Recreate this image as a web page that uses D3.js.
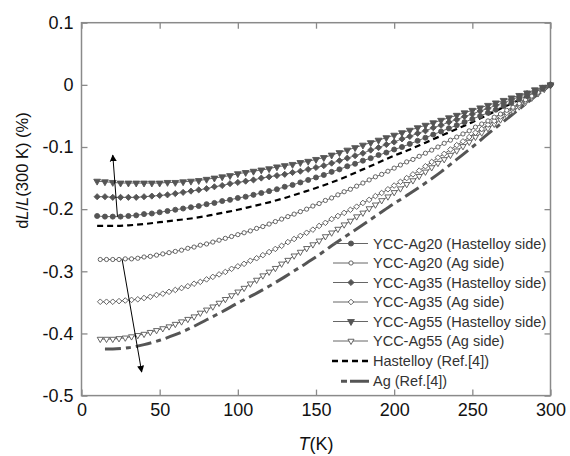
<!DOCTYPE html>
<html><head><meta charset="utf-8">
<script src="https://cdn.jsdelivr.net/npm/d3@7"></script>
<style>body{margin:0;background:#fff}svg{display:block}</style></head>
<body><svg id="c" width="570" height="456"></svg>
<script>
// ---------- data ----------
const xTicks = [0, 50, 100, 150, 200, 250, 300];
const xTickLabels = ["0", "50", "100", "150", "200", "250", "300"];
const yTicks = [-0.5, -0.4, -0.3, -0.2, -0.1, 0, 0.1];
const yTickLabels = ["-0.5", "-0.4", "-0.3", "-0.2", "-0.1", "0", "0.1"];

// temperatures (K) – Hastelloy-side measurements
const tempH = [10,15,20,25,30,35,40,45,50,55,60,65,70,75,80,85,90,95,100,105,110,115,120,125,130,135,140,145,150,155,160,165,170,175,180,185,190,195,200,205,210,215,220,225,230,235,240,245,250,255,260,265,270,275,280,285,290,295,300];
// temperatures (K) – Ag-side measurements
const tempAg = [12,16,20,24,28,32,36,40,44,48,52,56,60,64,68,72,76,80,84,88,92,96,100,104,108,112,116,120,124,128,132,136,140,144,148,152,156,160,164,168,172,176,180,184,188,192,196,200,204,208,212,216,220,224,228,232,236,240,244,248,252,256,260,264,268,272,276,280,284,288,292,296,300];
// temperatures (K) – reference curves
const tempRefHast = [10,20,30,40,50,60,70,80,90,100,110,120,130,140,150,160,170,180,190,200,210,220,230,240,250,260,270,280,290,300];
const tempRefAg = [15,20,30,40,50,60,70,80,90,100,110,120,130,140,150,160,170,180,190,200,210,220,230,240,250,260,270,280,290,300];

// dL/L (%) values
const ag20Hast = [-0.211,-0.212,-0.212,-0.212,-0.211,-0.210,-0.208,-0.207,-0.205,-0.203,-0.201,-0.199,-0.197,-0.195,-0.192,-0.190,-0.187,-0.185,-0.182,-0.180,-0.177,-0.174,-0.171,-0.168,-0.164,-0.161,-0.157,-0.153,-0.149,-0.145,-0.140,-0.136,-0.131,-0.127,-0.122,-0.118,-0.113,-0.109,-0.104,-0.100,-0.095,-0.090,-0.085,-0.080,-0.075,-0.070,-0.065,-0.060,-0.055,-0.050,-0.045,-0.040,-0.034,-0.029,-0.023,-0.018,-0.012,-0.006,0];
const ag35Hast = [-0.180,-0.180,-0.181,-0.181,-0.181,-0.181,-0.180,-0.179,-0.178,-0.177,-0.175,-0.173,-0.171,-0.169,-0.167,-0.164,-0.162,-0.159,-0.157,-0.155,-0.153,-0.150,-0.148,-0.146,-0.144,-0.141,-0.139,-0.136,-0.133,-0.130,-0.126,-0.122,-0.118,-0.114,-0.110,-0.105,-0.101,-0.096,-0.092,-0.087,-0.083,-0.078,-0.074,-0.069,-0.065,-0.060,-0.056,-0.051,-0.047,-0.042,-0.038,-0.033,-0.029,-0.024,-0.019,-0.014,-0.010,-0.005,0];
const ag55Hast = [-0.155,-0.156,-0.157,-0.158,-0.158,-0.158,-0.158,-0.158,-0.158,-0.157,-0.157,-0.156,-0.155,-0.154,-0.152,-0.150,-0.148,-0.146,-0.143,-0.141,-0.139,-0.137,-0.135,-0.132,-0.130,-0.128,-0.125,-0.123,-0.120,-0.117,-0.113,-0.109,-0.105,-0.101,-0.097,-0.093,-0.089,-0.085,-0.081,-0.077,-0.073,-0.069,-0.065,-0.061,-0.057,-0.053,-0.049,-0.045,-0.041,-0.037,-0.033,-0.029,-0.025,-0.021,-0.017,-0.013,-0.008,-0.004,0];
const ag20Ag = [-0.281,-0.281,-0.281,-0.281,-0.280,-0.280,-0.279,-0.277,-0.276,-0.274,-0.272,-0.270,-0.268,-0.266,-0.263,-0.261,-0.258,-0.256,-0.253,-0.250,-0.247,-0.244,-0.241,-0.238,-0.235,-0.231,-0.228,-0.224,-0.220,-0.216,-0.212,-0.208,-0.204,-0.200,-0.195,-0.191,-0.186,-0.182,-0.177,-0.172,-0.168,-0.163,-0.158,-0.153,-0.148,-0.144,-0.139,-0.134,-0.129,-0.124,-0.120,-0.115,-0.110,-0.105,-0.100,-0.094,-0.089,-0.084,-0.079,-0.074,-0.068,-0.063,-0.058,-0.052,-0.047,-0.041,-0.036,-0.030,-0.024,-0.018,-0.012,-0.006,0];
const ag35Ag = [-0.349,-0.349,-0.349,-0.348,-0.347,-0.346,-0.345,-0.343,-0.341,-0.338,-0.336,-0.333,-0.330,-0.327,-0.324,-0.320,-0.317,-0.313,-0.309,-0.305,-0.301,-0.296,-0.292,-0.288,-0.283,-0.279,-0.274,-0.269,-0.264,-0.259,-0.253,-0.248,-0.243,-0.238,-0.233,-0.227,-0.222,-0.216,-0.211,-0.206,-0.201,-0.196,-0.190,-0.185,-0.179,-0.174,-0.168,-0.162,-0.156,-0.150,-0.144,-0.138,-0.131,-0.124,-0.117,-0.111,-0.104,-0.097,-0.091,-0.084,-0.077,-0.071,-0.064,-0.058,-0.051,-0.045,-0.038,-0.032,-0.026,-0.019,-0.013,-0.006,0];
const ag55Ag = [-0.409,-0.409,-0.409,-0.408,-0.407,-0.405,-0.403,-0.401,-0.398,-0.395,-0.392,-0.389,-0.385,-0.381,-0.377,-0.373,-0.367,-0.362,-0.357,-0.351,-0.345,-0.339,-0.333,-0.327,-0.320,-0.314,-0.307,-0.301,-0.295,-0.288,-0.282,-0.275,-0.269,-0.263,-0.257,-0.251,-0.244,-0.238,-0.232,-0.225,-0.219,-0.212,-0.206,-0.199,-0.193,-0.186,-0.180,-0.173,-0.167,-0.160,-0.154,-0.147,-0.140,-0.133,-0.126,-0.120,-0.113,-0.106,-0.099,-0.092,-0.084,-0.077,-0.070,-0.063,-0.056,-0.049,-0.042,-0.035,-0.028,-0.021,-0.014,-0.007,0];
const refHast = [-0.227,-0.227,-0.226,-0.224,-0.221,-0.218,-0.215,-0.211,-0.206,-0.201,-0.195,-0.189,-0.182,-0.174,-0.166,-0.157,-0.147,-0.136,-0.125,-0.114,-0.104,-0.093,-0.082,-0.071,-0.060,-0.048,-0.036,-0.024,-0.012,0];
const refAg = [-0.425,-0.425,-0.423,-0.418,-0.411,-0.402,-0.391,-0.378,-0.365,-0.351,-0.338,-0.324,-0.309,-0.293,-0.277,-0.259,-0.242,-0.225,-0.208,-0.191,-0.175,-0.158,-0.140,-0.120,-0.100,-0.079,-0.059,-0.039,-0.019,0];

const legendLabels = ["YCC-Ag20 (Hastelloy side)","YCC-Ag20 (Ag side)","YCC-Ag35 (Hastelloy side)","YCC-Ag35 (Ag side)","YCC-Ag55 (Hastelloy side)","YCC-Ag55 (Ag side)","Hastelloy (Ref.[4])","Ag (Ref.[4])"];

// arrows: [T0, v0, T1, v1]
const arrowUp = [23, -0.212, 20, -0.113];
const arrowDown = [26, -0.281, 38.5, -0.462];

// ---------- chart ----------
const svg = d3.select("#c");
const M = {l: 81.5, r: 550.5, t: 22.7, b: 395.6};
const x = d3.scaleLinear().domain([0, 300]).range([M.l, M.r]);
const y = d3.scaleLinear().domain([-0.5, 0.1]).range([M.b, M.t]);
const FONT = "Liberation Sans, Arial, Helvetica, sans-serif";
const frameColor = "#8a8a8a";
const markColor = "#555";

svg.append("defs").append("marker")
  .attr("id", "ah").attr("viewBox", "0 0 10 10").attr("refX", 9).attr("refY", 5)
  .attr("markerWidth", 7).attr("markerHeight", 11).attr("markerUnits", "userSpaceOnUse")
  .attr("orient", "auto")
  .append("path").attr("d", "M0,0 L10,5 L0,10 Z").attr("fill", "#000");

// axes
const gx = svg.append("g").attr("transform", `translate(0,${M.b})`)
  .call(d3.axisBottom(x).tickValues(xTicks).tickFormat((d, i) => xTickLabels[i]).tickSizeInner(-6).tickSizeOuter(0).tickPadding(8));
const gy = svg.append("g").attr("transform", `translate(${M.l},0)`)
  .call(d3.axisLeft(y).tickValues(yTicks).tickFormat((d, i) => yTickLabels[i]).tickSizeInner(-6).tickSizeOuter(0).tickPadding(8));
const gxt = svg.append("g").attr("transform", `translate(0,${M.t})`)
  .call(d3.axisTop(x).tickValues(xTicks).tickFormat("").tickSizeInner(-6).tickSizeOuter(0));
const gyr = svg.append("g").attr("transform", `translate(${M.r},0)`)
  .call(d3.axisRight(y).tickValues(yTicks).tickFormat("").tickSizeInner(-6).tickSizeOuter(0));
[gx, gy, gxt, gyr].forEach(g => {
  g.select(".domain").remove();
  g.selectAll(".tick line").attr("stroke", frameColor).attr("stroke-width", 1.3);
  g.selectAll("text").attr("font-family", FONT).attr("font-size", 18).attr("fill", "#111");
});
svg.append("rect").attr("x", M.l).attr("y", M.t).attr("width", M.r - M.l).attr("height", M.b - M.t)
  .attr("fill", "none").attr("stroke", frameColor).attr("stroke-width", 1.5);

// axis titles
const yt = svg.append("text").attr("transform", `translate(28,${y(-0.138)}) rotate(-90)`)
  .attr("text-anchor", "middle").attr("font-family", FONT).attr("font-size", 16.5).attr("fill", "#111");
yt.append("tspan").text("d");
yt.append("tspan").attr("font-style", "italic").text("L");
yt.append("tspan").text("/");
yt.append("tspan").attr("font-style", "italic").text("L");
yt.append("tspan").text("(300 K) (%)");
const xt = svg.append("text").attr("x", x(150)).attr("y", 450)
  .attr("text-anchor", "middle").attr("font-family", FONT).attr("font-size", 18).attr("fill", "#111");
xt.append("tspan").attr("font-style", "italic").text("T");
xt.append("tspan").text("(K)");

// reference lines
const line = d3.line().x(d => x(d[0])).y(d => y(d[1])).curve(d3.curveMonotoneX);
svg.append("path").datum(d3.zip(tempRefHast, refHast)).attr("d", line)
  .attr("fill", "none").attr("stroke", "#000").attr("stroke-width", 2.2).attr("stroke-dasharray", "6,4");
svg.append("path").datum(d3.zip(tempRefAg, refAg)).attr("d", line)
  .attr("fill", "none").attr("stroke", "#555").attr("stroke-width", 3).attr("stroke-dasharray", "16,5,5,5");

// series
const series = [
  {t: tempAg, v: ag55Ag, type: d3.symbolTriangle, rot: 180, size: 16, fill: "#fff"},
  {t: tempAg, v: ag35Ag, type: d3.symbolDiamond2, rot: 0, size: 20, fill: "#fff"},
  {t: tempAg, v: ag20Ag, type: d3.symbolCircle, rot: 0, size: 14, fill: "#fff"},
  {t: tempH, v: ag20Hast, type: d3.symbolCircle, rot: 0, size: 20, fill: markColor},
  {t: tempH, v: ag35Hast, type: d3.symbolDiamond2, rot: 0, size: 24, fill: markColor},
  {t: tempH, v: ag55Hast, type: d3.symbolTriangle, rot: 180, size: 20, fill: markColor}
];
series.forEach(s => {
  const pts = d3.zip(s.t, s.v);
  svg.append("path").datum(pts).attr("d", d3.line().x(d => x(d[0])).y(d => y(d[1])))
    .attr("fill", "none").attr("stroke", "#666").attr("stroke-width", 1);
  svg.append("g").selectAll("path").data(pts).join("path")
    .attr("d", d3.symbol().type(s.type).size(s.size))
    .attr("transform", d => `translate(${x(d[0])},${y(d[1])}) rotate(${s.rot})`)
    .attr("fill", s.fill).attr("stroke", markColor).attr("stroke-width", 0.9);
});

// arrows
[arrowUp, arrowDown].forEach(a => {
  svg.append("line").attr("x1", x(a[0])).attr("y1", y(a[1])).attr("x2", x(a[2])).attr("y2", y(a[3]))
    .attr("stroke", "#000").attr("stroke-width", 1).attr("marker-end", "url(#ah)");
});

// legend
const legendSym = [
  {type: d3.symbolCircle, rot: 0, size: 20, fill: markColor},
  {type: d3.symbolCircle, rot: 0, size: 14, fill: "#fff"},
  {type: d3.symbolDiamond2, rot: 0, size: 24, fill: markColor},
  {type: d3.symbolDiamond2, rot: 0, size: 20, fill: "#fff"},
  {type: d3.symbolTriangle, rot: 180, size: 20, fill: markColor},
  {type: d3.symbolTriangle, rot: 180, size: 16, fill: "#fff"}
];
const lg = svg.append("g");
legendLabels.forEach((lab, i) => {
  const cy = 243.5 + i * 19.5 + (i >= 6 ? (i - 5) * 0.6 : 0);
  if (i < 6) {
    const s = legendSym[i];
    lg.append("line").attr("x1", 333).attr("x2", 368).attr("y1", cy).attr("y2", cy)
      .attr("stroke", "#666").attr("stroke-width", 1);
    lg.append("path").attr("d", d3.symbol().type(s.type).size(s.size))
      .attr("transform", `translate(351,${cy}) rotate(${s.rot})`)
      .attr("fill", s.fill).attr("stroke", markColor).attr("stroke-width", 0.9);
  } else if (i === 6) {
    lg.append("line").attr("x1", 332).attr("x2", 369).attr("y1", cy).attr("y2", cy)
      .attr("stroke", "#000").attr("stroke-width", 2.5).attr("stroke-dasharray", "6,4");
  } else {
    lg.append("line").attr("x1", 341).attr("x2", 369).attr("y1", cy).attr("y2", cy)
      .attr("stroke", "#555").attr("stroke-width", 3).attr("stroke-dasharray", "6,3,19,0");
  }
  lg.append("text").attr("x", 373).attr("y", cy).attr("dy", "0.35em")
    .attr("font-family", FONT).attr("font-size", 14.5).attr("fill", "#333").text(lab);
});
</script></body></html>
